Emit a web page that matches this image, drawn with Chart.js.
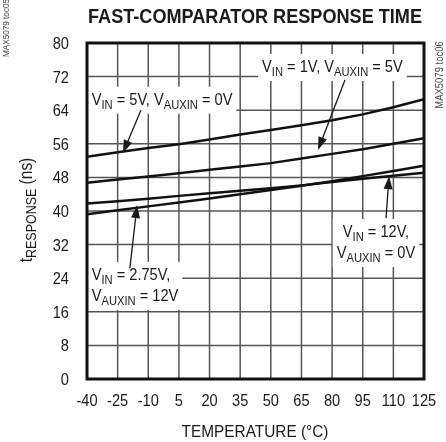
<!DOCTYPE html>
<html>
<head>
<meta charset="utf-8">
<script src="https://cdn.jsdelivr.net/npm/chart.js@4.4.0/dist/chart.umd.min.js"></script>
<style>
  html, body { margin: 0; padding: 0; background: #fff; }
  #wrap { width: 446px; height: 442px; }
</style>
</head>
<body>
<div id="wrap"><canvas id="respChart" width="446" height="442"></canvas></div>
<script>
const temps = [-40, -25, -10, 5, 20, 35, 50, 65, 80, 95, 110, 125];

// response time (ns) per curve
const vin5Aux0 = [52.9, 54.0, 55.0, 55.9, 57.0, 58.2, 59.3, 60.4, 61.6, 63.0, 64.7, 66.6];
const vin1Aux5 = [46.7, 47.5, 48.2, 49.0, 49.8, 50.6, 51.4, 52.5, 53.6, 54.7, 56.0, 57.3];
const vin275Aux12 = [41.8, 42.3, 42.9, 43.6, 44.2, 44.8, 45.4, 46.1, 46.9, 47.7, 48.4, 49.1];
const vin12Aux0 = [39.2, 40.2, 41.1, 42.0, 43.0, 44.0, 45.0, 46.0, 47.1, 48.3, 49.5, 50.8];

const yTicks = { min: 0, max: 80, step: 8 };
const xTicks = { min: -40, max: 125, step: 15 };

const FONT = "'Liberation Sans', Arial, sans-serif";
const SX = 0.86; // squeeze glyphs to look like the narrow face in the original

// callouts: text lines made of [text, isSubscript] pieces, anchor + arrow in data units
const callouts = [
  { lines: [[['V', 0], ['IN', 1], [' = 1V, V', 0], ['AUXIN', 1], [' = 5V', 0]]],
    x: 45.7, y: 73.1, align: 'left', arrow: [86.3, 71.2, 73.1, 54.5] },
  { lines: [[['V', 0], ['IN', 1], [' = 5V, V', 0], ['AUXIN', 1], [' = 0V', 0]]],
    x: -37.7, y: 65.3, align: 'left', arrow: [-13.6, 64.0, -22.4, 53.8] },
  { lines: [[['V', 0], ['IN', 1], [' = 2.75V,', 0]], [['V', 0], ['AUXIN', 1], [' = 12V', 0]]],
    x: -37.7, y: 23.6, align: 'left', arrow: [-19.0, 26.4, -15.5, 41.4] },
  { lines: [[['V', 0], ['IN', 1], [' = 12V,', 0]], [['V', 0], ['AUXIN', 1], [' = 0V', 0]]],
    x: 101.5, y: 33.8, align: 'center', arrow: [106.4, 38.3, 107.9, 48.3] }
];

function toPoints(vals) {
  return temps.map((t, i) => ({ x: t, y: vals[i] }));
}

function richWidth(ctx, parts, big, small) {
  let w = 0;
  parts.forEach(p => {
    ctx.font = (p[1] ? small : big) + 'px ' + FONT;
    w += ctx.measureText(p[0]).width * SX;
  });
  return w;
}

function drawText(ctx, text, x, y, sx) {
  ctx.save();
  ctx.translate(x, y);
  ctx.scale(sx, 1);
  ctx.fillText(text, 0, 0);
  ctx.restore();
}

function drawRich(ctx, parts, x, y, big, small) {
  ctx.textAlign = 'left';
  parts.forEach(p => {
    ctx.font = (p[1] ? small : big) + 'px ' + FONT;
    drawText(ctx, p[0], x, p[1] ? y + 4 : y, SX);
    x += ctx.measureText(p[0]).width * SX;
  });
}

function tickValues(t) {
  const out = [];
  for (let v = t.min; v <= t.max; v += t.step) out.push(v);
  return out;
}

const decorations = {
  id: 'decorations',
  beforeDatasetsDraw(chart) {
    const ctx = chart.ctx;
    const xs = chart.scales.x, ys = chart.scales.y;
    const L = xs.getPixelForValue(xTicks.min), R = xs.getPixelForValue(xTicks.max);
    const T = ys.getPixelForValue(yTicks.max), B = ys.getPixelForValue(yTicks.min);
    ctx.save();
    // grid
    ctx.strokeStyle = '#555';
    ctx.lineWidth = 1.5;
    ctx.beginPath();
    tickValues(xTicks).forEach(v => {
      const px = xs.getPixelForValue(v);
      ctx.moveTo(px, T); ctx.lineTo(px, B);
    });
    tickValues(yTicks).forEach(v => {
      const py = ys.getPixelForValue(v);
      ctx.moveTo(L, py); ctx.lineTo(R, py);
    });
    ctx.stroke();

    ctx.textBaseline = 'alphabetic';
    // callout boxes and text
    callouts.forEach(c => {
      const px = xs.getPixelForValue(c.x);
      const py = ys.getPixelForValue(c.y);
      const widths = c.lines.map(l => richWidth(ctx, l, 17, 13));
      const maxW = Math.max(...widths);
      const left = c.align === 'center' ? px - maxW / 2 : px;
      ctx.fillStyle = '#fff';
      ctx.fillRect(left - 4, py - 18, maxW + 8, 21 * c.lines.length + 6);
      ctx.fillStyle = '#1a1a1a';
      c.lines.forEach((l, i) => {
        const lx = c.align === 'center' ? px - widths[i] / 2 : px;
        drawRich(ctx, l, lx, py + i * 21, 17, 13);
      });
    });
    ctx.restore();
  },
  afterDatasetsDraw(chart) {
    const ctx = chart.ctx;
    const xs = chart.scales.x, ys = chart.scales.y;
    const L = xs.getPixelForValue(xTicks.min), R = xs.getPixelForValue(xTicks.max);
    const T = ys.getPixelForValue(yTicks.max), B = ys.getPixelForValue(yTicks.min);
    ctx.save();
    // arrows
    ctx.strokeStyle = '#1a1a1a';
    ctx.fillStyle = '#1a1a1a';
    ctx.lineWidth = 1.3;
    callouts.forEach(c => {
      const x1 = xs.getPixelForValue(c.arrow[0]), y1 = ys.getPixelForValue(c.arrow[1]);
      const x2 = xs.getPixelForValue(c.arrow[2]), y2 = ys.getPixelForValue(c.arrow[3]);
      const ang = Math.atan2(y2 - y1, x2 - x1);
      ctx.beginPath();
      ctx.moveTo(x1, y1);
      ctx.lineTo(x2 - 10 * Math.cos(ang), y2 - 10 * Math.sin(ang));
      ctx.stroke();
      ctx.beginPath();
      ctx.moveTo(x2, y2);
      ctx.lineTo(x2 - 13 * Math.cos(ang) + 4.5 * Math.sin(ang), y2 - 13 * Math.sin(ang) - 4.5 * Math.cos(ang));
      ctx.lineTo(x2 - 13 * Math.cos(ang) - 4.5 * Math.sin(ang), y2 - 13 * Math.sin(ang) + 4.5 * Math.cos(ang));
      ctx.closePath();
      ctx.fill();
    });
    // frame
    ctx.strokeStyle = '#111';
    ctx.lineWidth = 3;
    ctx.strokeRect(L, T, R - L, B - T);

    ctx.fillStyle = '#1a1a1a';
    ctx.textBaseline = 'alphabetic';

    // tick labels, placed with the chart's own scales
    ctx.font = '17px ' + FONT;
    ctx.textAlign = 'right';
    tickValues(yTicks).forEach(v => {
      drawText(ctx, String(v), L - 18, ys.getPixelForValue(v) + 6, SX);
    });
    ctx.textAlign = 'center';
    tickValues(xTicks).forEach(v => {
      drawText(ctx, String(v), xs.getPixelForValue(v), B + 27, SX);
    });

    // title
    ctx.font = 'bold 21px ' + FONT;
    const tTxt = 'FAST-COMPARATOR RESPONSE TIME';
    drawText(ctx, tTxt, 255, 23, 334 / ctx.measureText(tTxt).width);
    // x axis title
    ctx.font = '17px ' + FONT;
    const xTxt = 'TEMPERATURE (°C)';
    drawText(ctx, xTxt, 255, 437, 147 / ctx.measureText(xTxt).width);

    // y axis title, rotated
    ctx.save();
    ctx.translate(32, 210);
    ctx.rotate(-Math.PI / 2);
    const yParts = [['t', 0], ['RESPONSE', 1], [' (ns)', 0]];
    const w = richWidth(ctx, yParts, 18, 14.5);
    drawRich(ctx, yParts, -w / 2, 0, 18, 14.5);
    ctx.restore();

    // side ids
    ctx.fillStyle = '#444';
    ctx.textAlign = 'center';
    ctx.font = '9.5px ' + FONT;
    ctx.save();
    ctx.translate(8.5, 28);
    ctx.rotate(-Math.PI / 2);
    drawText(ctx, 'MAX5079 toc05', 0, 0, SX);
    ctx.restore();
    ctx.save();
    ctx.translate(443, 75);
    ctx.rotate(-Math.PI / 2);
    ctx.font = '11px ' + FONT;
    drawText(ctx, 'MAX5079 toc06', 0, 0, SX);
    ctx.restore();
    ctx.restore();
  }
};

function lineSet(vals) {
  return {
    data: toPoints(vals),
    borderColor: '#111',
    borderWidth: 2.5,
    pointRadius: 0,
    tension: 0,
    fill: false
  };
}

const ctxResp = document.getElementById('respChart').getContext('2d');
const respChart = new Chart(ctxResp, {
  type: 'line',
  data: {
    datasets: [lineSet(vin5Aux0), lineSet(vin1Aux5), lineSet(vin275Aux12), lineSet(vin12Aux0)]
  },
  options: {
    responsive: false,
    animation: false,
    layout: { padding: { left: 0, right: 22, top: 43, bottom: 0 } },
    plugins: { legend: { display: false }, tooltip: { enabled: false } },
    scales: {
      x: {
        type: 'linear',
        min: xTicks.min,
        max: xTicks.max,
        afterFit: s => { s.height = 63; },
        ticks: { display: false },
        grid: { display: false },
        border: { display: false }
      },
      y: {
        min: yTicks.min,
        max: yTicks.max,
        afterFit: s => { s.width = 87; },
        ticks: { display: false },
        grid: { display: false },
        border: { display: false }
      }
    }
  },
  plugins: [decorations]
});
</script>
</body>
</html>
